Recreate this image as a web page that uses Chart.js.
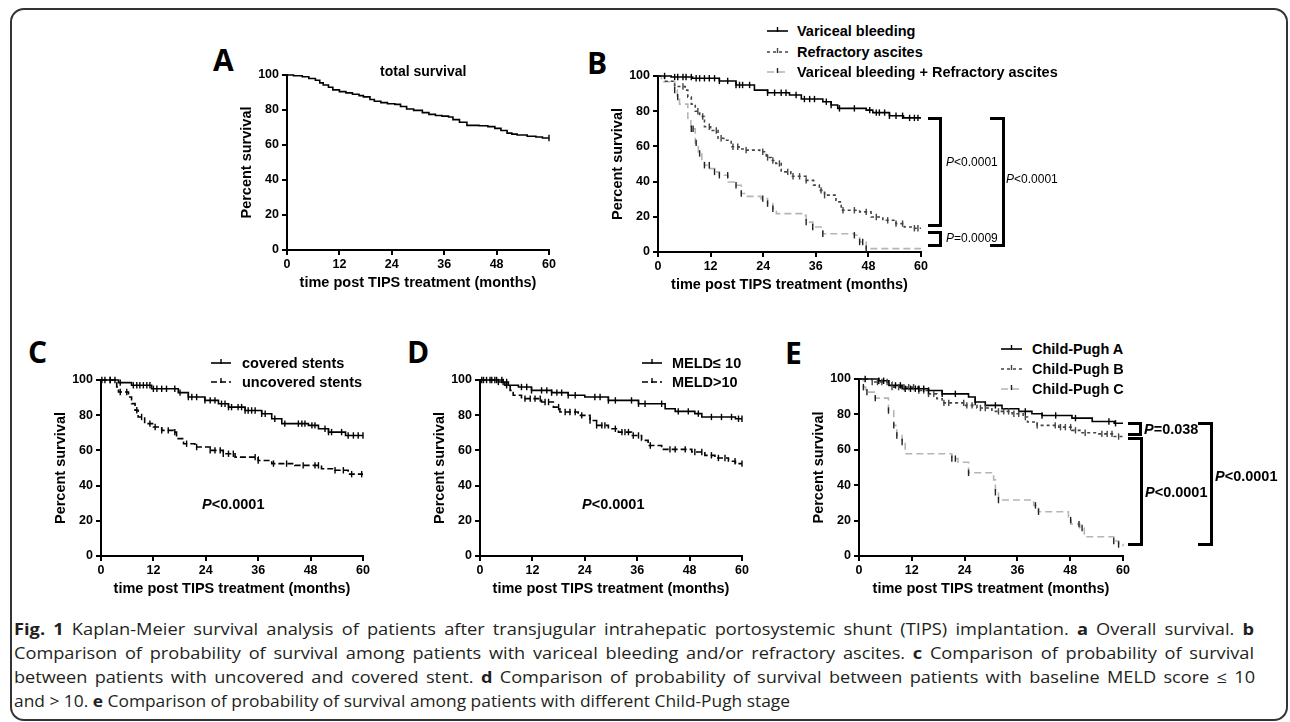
<!DOCTYPE html>
<html>
<head>
<meta charset="utf-8">
<script src="https://cdn.jsdelivr.net/npm/chart.js@4.4.0/dist/chart.umd.min.js"></script>
<style>
  body { margin: 0; background: #fff; }
  #fig { position: relative; width: 1290px; height: 722px; overflow: hidden; font-family: "Liberation Sans", Arial, sans-serif; color: #000; }
  .frame { position: absolute; left: 10px; top: 8px; width: 1278px; height: 713px; border: 2px solid #333; border-radius: 14px; box-sizing: border-box; }
  canvas { position: absolute; }
  .abs { position: absolute; white-space: nowrap; }
  .letter { font-family: "Open Sans", sans-serif; font-weight: 700; font-size: 30px; line-height: 30px; }
  .leg { font-weight: 700; font-size: 14.5px; line-height: 14.5px; }
  .pv { font-weight: 700; font-size: 14.5px; line-height: 14.5px; }
  .pvs { font-size: 12px; line-height: 12px; }
  .br { position: absolute; border: 3px solid #000; border-left: none; box-sizing: border-box; }
  .cap { font-family: "Open Sans", sans-serif; font-size: 16px; line-height: 16px; color: #231f20; transform-origin: 0 50%; }
</style>
</head>
<body>
<div id="fig">
  <div class="frame"></div>

  <canvas id="chartA"></canvas>
  <canvas id="chartB"></canvas>
  <canvas id="chartC"></canvas>
  <canvas id="chartD"></canvas>
  <canvas id="chartE"></canvas>

  <div class="abs letter" style="left:213px;top:45px">A</div>
  <div class="abs letter" style="left:587px;top:48px">B</div>
  <div class="abs letter" style="left:28px;top:337px">C</div>
  <div class="abs letter" style="left:407px;top:337px">D</div>
  <div class="abs letter" style="left:785px;top:338px">E</div>

  <div class="abs leg" style="left:380px;top:64px;font-size:14px">total survival</div>

  <!-- B legend -->
  <svg class="abs" style="left:767px;top:26px" width="21" height="10"><line x1="0" y1="5" x2="21" y2="5" stroke="#000" stroke-width="1.6"/><line x1="10.5" y1="1" x2="10.5" y2="6" stroke="#000" stroke-width="1.4"/></svg>
  <div class="abs leg" style="left:797px;top:24px">Variceal bleeding</div>
  <svg class="abs" style="left:767px;top:47px" width="21" height="10"><line x1="0" y1="5" x2="21" y2="5" stroke="#444" stroke-width="1.6" stroke-dasharray="3,3"/><line x1="10.5" y1="1" x2="10.5" y2="6" stroke="#444" stroke-width="1.4"/></svg>
  <div class="abs leg" style="left:797px;top:45px">Refractory ascites</div>
  <svg class="abs" style="left:767px;top:67px" width="21" height="10"><line x1="0" y1="5" x2="21" y2="5" stroke="#b5b5b5" stroke-width="1.6" stroke-dasharray="7,4"/><line x1="10.5" y1="1" x2="10.5" y2="6" stroke="#222" stroke-width="1.4"/></svg>
  <div class="abs leg" style="left:797px;top:65px">Variceal bleeding + Refractory ascites</div>

  <!-- B brackets -->
  <div class="br" style="left:928px;top:117px;width:14px;height:110px"></div>
  <div class="br" style="left:928px;top:231px;width:14px;height:16px"></div>
  <div class="br" style="left:990px;top:117px;width:15px;height:130px"></div>
  <div class="abs pvs" style="left:946px;top:156px"><i>P</i>&lt;0.0001</div>
  <div class="abs pvs" style="left:946px;top:232px"><i>P</i>=0.0009</div>
  <div class="abs pvs" style="left:1006px;top:173px"><i>P</i>&lt;0.0001</div>

  <!-- C legend -->
  <svg class="abs" style="left:211px;top:358px" width="20" height="10"><line x1="0" y1="5" x2="20" y2="5" stroke="#000" stroke-width="1.6"/><line x1="10" y1="1" x2="10" y2="6" stroke="#000" stroke-width="1.4"/></svg>
  <div class="abs leg" style="left:242px;top:356px">covered stents</div>
  <svg class="abs" style="left:211px;top:377px" width="20" height="10"><line x1="0" y1="5" x2="20" y2="5" stroke="#000" stroke-width="1.6" stroke-dasharray="6,3"/><line x1="10" y1="1" x2="10" y2="6" stroke="#000" stroke-width="1.4"/></svg>
  <div class="abs leg" style="left:242px;top:375px">uncovered stents</div>
  <div class="abs pv" style="left:202px;top:497px"><i>P</i>&lt;0.0001</div>

  <!-- D legend -->
  <svg class="abs" style="left:642px;top:358px" width="20" height="10"><line x1="0" y1="5" x2="20" y2="5" stroke="#000" stroke-width="1.6"/><line x1="10" y1="1" x2="10" y2="6" stroke="#000" stroke-width="1.4"/></svg>
  <div class="abs leg" style="left:672px;top:356px">MELD≤ 10</div>
  <svg class="abs" style="left:642px;top:377px" width="20" height="10"><line x1="0" y1="5" x2="20" y2="5" stroke="#000" stroke-width="1.6" stroke-dasharray="6,3"/><line x1="10" y1="1" x2="10" y2="6" stroke="#000" stroke-width="1.4"/></svg>
  <div class="abs leg" style="left:672px;top:375px">MELD&gt;10</div>
  <div class="abs pv" style="left:582px;top:497px"><i>P</i>&lt;0.0001</div>

  <!-- E legend -->
  <svg class="abs" style="left:1001px;top:344px" width="21" height="10"><line x1="0" y1="5" x2="21" y2="5" stroke="#000" stroke-width="1.6"/><line x1="10.5" y1="1" x2="10.5" y2="6" stroke="#000" stroke-width="1.4"/></svg>
  <div class="abs leg" style="left:1032px;top:342px">Child-Pugh A</div>
  <svg class="abs" style="left:1001px;top:364px" width="21" height="10"><line x1="0" y1="5" x2="21" y2="5" stroke="#444" stroke-width="1.6" stroke-dasharray="3,3"/><line x1="10.5" y1="1" x2="10.5" y2="6" stroke="#444" stroke-width="1.4"/></svg>
  <div class="abs leg" style="left:1032px;top:362px">Child-Pugh B</div>
  <svg class="abs" style="left:1001px;top:384px" width="21" height="10"><line x1="0" y1="5" x2="21" y2="5" stroke="#b5b5b5" stroke-width="1.6" stroke-dasharray="7,4"/><line x1="10.5" y1="1" x2="10.5" y2="6" stroke="#222" stroke-width="1.4"/></svg>
  <div class="abs leg" style="left:1032px;top:382px">Child-Pugh C</div>

  <!-- E brackets -->
  <div class="br" style="left:1128px;top:422px;width:14px;height:14px"></div>
  <div class="br" style="left:1128px;top:437px;width:15px;height:109px"></div>
  <div class="br" style="left:1198px;top:422px;width:15px;height:124px"></div>
  <div class="abs pv" style="left:1144px;top:422px"><i>P</i>=0.038</div>
  <div class="abs pv" style="left:1145px;top:485px"><i>P</i>&lt;0.0001</div>
  <div class="abs pv" style="left:1215px;top:469px"><i>P</i>&lt;0.0001</div>

  <!-- caption: first three lines are justified, the last one is not -->
  <div class="abs cap" data-w="1240" style="left:14px;top:621px"><b>Fig. 1</b> Kaplan-Meier survival analysis of patients after transjugular intrahepatic portosystemic shunt (TIPS) implantation. <b>a</b> Overall survival. <b>b</b></div>
  <div class="abs cap" data-w="1240" style="left:14px;top:645px">Comparison of probability of survival among patients with variceal bleeding and/or refractory ascites. <b>c</b> Comparison of probability of survival</div>
  <div class="abs cap" data-w="1241" style="left:14px;top:669px">between patients with uncovered and covered stent. <b>d</b> Comparison of probability of survival between patients with baseline MELD score ≤ 10</div>
  <div class="abs cap" id="capLast" data-w="776" style="left:14px;top:693px">and &gt; 10. <b>e</b> Comparison of probability of survival among patients with different Child-Pugh stage</div>
</div>

<script>
// axis ticks
const xTicks = [0, 12, 24, 36, 48, 60];
const yTicks = [0, 20, 40, 60, 80, 100];

// A: total survival
const totalT = [0, 1.5, 3.5, 5, 6.5, 7.5, 8.3, 9.5, 10.5, 12, 13.5, 15, 16.5, 17.5, 19, 20, 21.5, 23, 24.7, 26, 27.4, 29, 31, 32.5, 34, 35.5, 37, 38, 39.5, 41.2, 44, 46, 47.6, 49, 50.4, 51.5, 52.7, 55, 57, 58.5, 60];
const totalS = [100, 99.6, 99, 98, 97, 95.5, 94.3, 93, 91.5, 90.5, 89.8, 89, 88.2, 87.5, 86, 85, 84.2, 83.6, 83.2, 82, 80.6, 79.8, 78.5, 77.5, 76.9, 76.5, 76, 74.5, 73, 71.2, 71, 70.5, 69.5, 68.3, 66.8, 66.2, 65.7, 65, 64.6, 64, 64];
const totalC = [60];

// B: indication
const vbT = [0, 3, 7.9, 14, 17.8, 22, 25, 30, 32.7, 37.6, 39.5, 41, 47.5, 49, 52.8, 56, 60];
const vbS = [100, 99.4, 98.7, 97.2, 94.9, 92, 90.5, 89.2, 86.9, 85.4, 83.5, 81.6, 80.6, 79.2, 77.4, 76.2, 76.2];
const vbC = [1.5, 3.8, 4.5, 5.7, 6.4, 7.6, 8.7, 9.5, 10.6, 11.7, 12.9, 14, 15.9, 17.8, 18.6, 19.3, 20.9, 25, 26.6, 28.1, 29.2, 31.5, 33.4, 34.6, 35.7, 38.4, 39.5, 41.4, 44.8, 48.3, 49.8, 50.5, 51.7, 52.8, 54.3, 55.8, 57.4, 58.5, 59.3];
const raT = [0, 1.5, 3.8, 6.2, 6.8, 7.6, 8.5, 9.5, 10.6, 12, 13.7, 15, 16.7, 18.5, 19.7, 23.2, 24.7, 25.8, 26.9, 28.1, 30.3, 33.8, 35.5, 36.8, 38, 40.6, 41.8, 46, 48.6, 51.3, 54.3, 56.2, 58, 60];
const raS = [100, 97, 94, 92, 88, 84, 80, 77, 71.2, 69, 64.6, 63.5, 59.8, 58.5, 57.9, 57, 53.7, 52, 50.3, 45.5, 43, 40.7, 38, 35, 32.3, 28.5, 23.7, 22.8, 19.9, 18, 16.1, 14.2, 13.5, 13.5];
const raC = [5.7, 9.1, 10.2, 11.7, 13.3, 14.4, 17.1, 18.2, 20.1, 23.9, 25, 26.2, 27.7, 29.6, 30.8, 32.3, 33.8, 37.2, 38, 42.2, 44.8, 47.5, 49.8, 52.4, 54.3, 55.8, 58.5, 59.3];
const cbT = [0, 0.8, 3.8, 4.4, 4.9, 6.8, 7.5, 8.5, 9.2, 10, 10.6, 11.8, 12.9, 14, 16, 17.8, 19, 20, 23.5, 25, 26.2, 27, 33, 33.8, 35.3, 37.6, 44.8, 46, 47.5, 60];
const cbS = [100, 96.7, 92, 88, 84, 76, 70, 62, 56, 52, 49.3, 47.4, 45.5, 43.6, 39.8, 37.9, 33.2, 31.6, 30.3, 27.5, 24.6, 21.8, 20.8, 17, 14.2, 10.4, 9.5, 5.7, 1.9, 1.9];
const cbC = [3.8, 4.5, 7.6, 8, 8.7, 9.5, 10.6, 11.7, 12.9, 14, 15.9, 17.8, 19, 23.9, 25, 26.2, 33.8, 35.3, 37.6, 44.8, 46, 46.7, 47.5];

// C: stent type
const covT = [0, 4, 7, 11.6, 17.7, 20, 23.8, 26.9, 29.2, 33, 36.8, 39.1, 41.4, 47.5, 49.8, 52.1, 56, 60];
const covS = [100, 98.5, 97, 95, 92.8, 90.3, 88.4, 86.5, 84.6, 82.7, 80.8, 78, 75.2, 74.2, 72.3, 70.4, 68.5, 68.5];
const covC = [0.2, 2.1, 3.2, 4.4, 7.4, 8.2, 8.9, 9.7, 10.5, 11.2, 12, 12.8, 13.9, 15, 16.9, 18.1, 20, 20.8, 21.9, 23.8, 25, 26.1, 27.6, 28.4, 29.2, 29.9, 31.4, 32.2, 33, 33.7, 34.5, 35.3, 36.8, 37.6, 39.8, 42.1, 45.2, 46, 46.7, 48.3, 49, 51.3, 52.1, 52.8, 55.1, 56.6, 57.8, 58.9, 60];
const uncT = [0, 3.6, 4, 6.3, 7, 7.8, 8.5, 10, 12, 13.9, 16.6, 17.3, 18.9, 21.5, 25, 28, 30.7, 36, 39.1, 44.4, 50.5, 53.6, 56.6, 60];
const uncS = [100, 96, 93.2, 90.3, 86.6, 82.8, 79, 75.2, 73.3, 71.4, 70.4, 66.7, 63.8, 61.9, 60, 58.1, 56.2, 54.3, 52.5, 51.5, 49.6, 48.7, 46.5, 46.5];
const uncC = [0.9, 2.1, 4.4, 5.9, 8.2, 9.3, 11.2, 12.4, 13.9, 15.4, 16.9, 19.6, 21.9, 25, 26.1, 27.3, 28, 29.2, 30.3, 35.3, 36, 39.5, 42.5, 46.3, 49, 49.8, 53.6, 55.5, 57.4, 59.7];

// D: MELD
const m1T = [0, 4.2, 6.5, 8.8, 11.8, 16.4, 20.2, 24, 29.4, 36.3, 42.4, 44.7, 49.2, 50.8, 58.5, 60];
const m1S = [100, 98.9, 97, 96, 94.1, 92.8, 91.3, 90.3, 88.4, 86.5, 83.7, 82.2, 80.9, 79, 78, 78];
const m1C = [0.4, 1.5, 2.7, 3.4, 4.2, 5.3, 6.1, 9.5, 10.7, 11.8, 14.1, 15.3, 16.4, 17.6, 18.7, 20.2, 21.8, 26.3, 27.5, 29.4, 31, 34.7, 36.3, 37.8, 41.6, 45.4, 47.7, 50, 53, 55.3, 57.6, 59.2, 60];
const m2T = [0, 5.7, 6.9, 7.6, 9.5, 14.1, 16.8, 18.3, 22.5, 25.2, 26.7, 29.4, 31.7, 34.7, 37, 38.5, 41.6, 48.5, 51.5, 53.8, 56.9, 58.5, 60];
const m2S = [100, 97, 94.1, 91.3, 89.4, 87.5, 84.6, 81.8, 79.9, 77, 74.2, 72.3, 70.4, 68.5, 65.7, 62.8, 60.6, 59.1, 57.2, 55.7, 53.8, 52.5, 52.5];
const m2C = [0.8, 2.3, 3.8, 5, 6.1, 10.3, 11.5, 12.6, 13.8, 14.9, 15.7, 18, 19.5, 20.6, 21.8, 23.3, 25.2, 26.7, 27.9, 28.6, 31, 32.5, 33.2, 34, 35.1, 36.3, 39, 43.5, 44.7, 47, 49.2, 50.8, 53, 54.6, 56.1, 58.4, 60];

// E: Child-Pugh
const cpaT = [0, 4.5, 6.8, 9.8, 15.8, 18.9, 24.9, 26.4, 28.7, 32.5, 36.3, 39.3, 41.6, 48.4, 53, 58, 60];
const cpaS = [100, 99, 96.4, 94.5, 93.5, 91.6, 89.8, 87, 85.1, 83.2, 81.7, 80.4, 79.4, 77.9, 76, 75, 75];
const cpaC = [1.4, 4.5, 5.6, 8.3, 9.4, 10.5, 11.7, 12.8, 13.6, 14.7, 15.8, 18.9, 21.9, 26.4, 31, 37.8, 41.6, 44.7, 49.2, 56.8, 58.3];
const cpbT = [0, 3, 7.5, 13.6, 15.8, 17.7, 18.9, 24.2, 26.8, 30.2, 34.8, 37.3, 38.3, 40.5, 45.4, 48.4, 50.7, 54.5, 57.6, 60];
const cpbS = [100, 98.3, 95.4, 93.5, 91.6, 88.8, 86.5, 85.1, 83.6, 81.7, 80.4, 78.5, 75.7, 73.8, 72.8, 71, 69.6, 69, 67.5, 67.3];
const cpbC = [3, 4.2, 5.2, 6.4, 7.5, 9, 10.2, 11.3, 12.4, 13.6, 14.7, 15.8, 17, 19.3, 20.4, 23.8, 24.5, 25.7, 27.6, 28.7, 31.7, 32.9, 34, 35.2, 36.3, 37.8, 40.5, 44.6, 45.8, 46.9, 48.1, 49.2, 51.4, 55.2, 56.4, 57.5, 59];
const cpcT = [0, 1, 1.5, 3.7, 6.7, 7.9, 8.6, 9.8, 10.5, 21.1, 22.5, 24.9, 30.6, 31, 31.7, 39.7, 40.8, 47.6, 48.2, 50.2, 51.2, 57.9, 59, 60];
const cpcS = [100, 95.4, 92.6, 89.2, 82.2, 73.8, 68.1, 64.4, 57.8, 55, 53, 47, 43, 36, 31.6, 28.6, 25, 20.3, 18, 15.8, 10.9, 8.5, 6.5, 5.5];
const cpcC = [1, 1.8, 3.7, 6.7, 7.9, 8.6, 9.8, 21.1, 21.9, 24.9, 31, 31.7, 40.1, 40.8, 48.1, 50, 50.7, 57.9, 59];

const FONT = '"Liberation Sans", Arial, sans-serif';
const SOLID = '#000', DARK = '#444', LIGHT = '#b5b5b5';

// survival value at time t (step function)
const stepAt = (ts, ss, t) => {
  let v = ss[0];
  for (let i = 0; i < ts.length; i++) if (ts[i] <= t) v = ss[i];
  return v;
};

const makePanel = (id, area, series) => {
  const W = 49, H = 42, padT = 12, padR = 12;
  const cv = document.getElementById(id);
  cv.width = W + (area.R - area.L) + padR;
  cv.height = padT + (area.B - area.T) + H;
  cv.style.left = (area.L - W) + 'px';
  cv.style.top = (area.T - padT) + 'px';

  const datasets = [];
  series.forEach((s) => {
    datasets.push({
      type: 'line',
      data: s.t.map((t, i) => ({ x: t, y: s.s[i] })),
      stepped: true,
      borderColor: s.color,
      borderDash: s.dash || [],
      borderWidth: 1.6,
      pointRadius: 0,
      clip: false,
      order: 2,
    });
    if (s.c) {
      datasets.push({
        type: 'scatter',
        data: s.c.map((t) => ({ x: t, y: stepAt(s.t, s.s, t) })),
        pointStyle: 'line',
        rotation: 90,
        pointRadius: 3.2,
        borderColor: s.tick || '#000',
        borderWidth: 1.4,
        clip: false,
        order: 1,
      });
    }
  });

  const axisCommon = {
    border: { color: '#000', width: 2 },
    grid: { drawOnChartArea: false, drawTicks: true, tickLength: 5, color: '#000', lineWidth: 2 },
  };

  new Chart(cv, {
    type: 'line',
    data: { datasets },
    options: {
      responsive: false,
      animation: false,
      events: [],
      devicePixelRatio: 1,
      layout: { padding: { left: 0, top: padT, right: padR, bottom: 0 } },
      plugins: { legend: { display: false }, tooltip: { enabled: false } },
      scales: {
        x: {
          type: 'linear',
          min: 0,
          max: 60,
          ...axisCommon,
          afterBuildTicks: (sc) => { sc.ticks = xTicks.map((v) => ({ value: v })); },
          afterFit: (sc) => { sc.height = H; },
          ticks: { color: '#000', font: { family: FONT, size: 12.5, weight: 'bold' }, padding: 2, maxRotation: 0, autoSkip: false },
          title: { display: true, text: 'time post TIPS treatment (months)', color: '#000', font: { family: FONT, size: 14.5, weight: 'bold', lineHeight: 1.2 }, padding: 0 },
        },
        y: {
          type: 'linear',
          min: 0,
          max: 100,
          ...axisCommon,
          afterBuildTicks: (sc) => { sc.ticks = yTicks.map((v) => ({ value: v })); },
          afterFit: (sc) => { sc.width = W; },
          ticks: { color: '#000', font: { family: FONT, size: 12.5, weight: 'bold' }, padding: 3, autoSkip: false },
          title: { display: true, text: 'Percent survival', color: '#000', font: { family: FONT, size: 14.5, weight: 'bold', lineHeight: 1.2 }, padding: 0 },
        },
      },
    },
  });
};

makePanel('chartA', { L: 287, R: 549, T: 75, B: 250 }, [
  { t: totalT, s: totalS, c: totalC, color: SOLID },
]);
makePanel('chartB', { L: 658, R: 921, T: 76, B: 252 }, [
  { t: vbT, s: vbS, c: vbC, color: SOLID },
  { t: raT, s: raS, c: raC, color: DARK, dash: [3, 3], tick: DARK },
  { t: cbT, s: cbS, c: cbC, color: LIGHT, dash: [7, 4], tick: '#222' },
]);
makePanel('chartC', { L: 101, R: 363, T: 380, B: 556 }, [
  { t: covT, s: covS, c: covC, color: SOLID },
  { t: uncT, s: uncS, c: uncC, color: SOLID, dash: [6, 3] },
]);
makePanel('chartD', { L: 480, R: 742, T: 380, B: 556 }, [
  { t: m1T, s: m1S, c: m1C, color: SOLID },
  { t: m2T, s: m2S, c: m2C, color: SOLID, dash: [6, 3] },
]);
makePanel('chartE', { L: 859, R: 1123, T: 379, B: 556 }, [
  { t: cpaT, s: cpaS, c: cpaC, color: SOLID },
  { t: cpbT, s: cpbS, c: cpbC, color: DARK, dash: [3, 3], tick: DARK },
  { t: cpcT, s: cpcS, c: cpcC, color: LIGHT, dash: [7, 4], tick: '#222' },
]);

// caption: the last (unjustified) line sets the squeeze; the justified lines
// take half of their extra length from a milder squeeze and half from word gaps
const last = document.getElementById('capLast');
const fLast = parseFloat(last.dataset.w) / last.getBoundingClientRect().width;
last.style.transform = 'scaleX(' + fLast + ')';
document.querySelectorAll('.cap').forEach((el) => {
  if (el === last) return;
  const target = parseFloat(el.dataset.w);
  const w0 = el.getBoundingClientRect().width;
  const f = (fLast + target / w0) / 2;
  const gaps = (el.textContent.match(/ /g) || []).length;
  el.style.wordSpacing = ((target / f - w0) / gaps) + 'px';
  el.style.transform = 'scaleX(' + f + ')';
});
</script>
</body>
</html>
